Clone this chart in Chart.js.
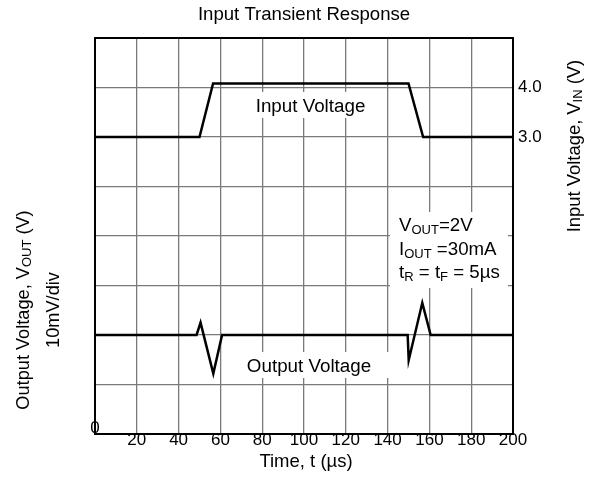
<!DOCTYPE html>
<html>
<head>
<meta charset="utf-8">
<script src="https://cdn.jsdelivr.net/npm/chart.js@4.4.1/dist/chart.umd.min.js"></script>
<style>
  html, body { margin: 0; padding: 0; background: #fff; }
  #wrap { width: 592px; height: 485px; position: relative; }
</style>
</head>
<body>
<div id="wrap"><canvas id="chart"></canvas></div>
<script>
const FONT = '"Liberation Sans", Arial, sans-serif';

// input step, volts
const inputTimes = [0, 50, 56.5, 150, 157, 200];
const inputVolts = [3.0, 3.0, 4.08, 4.08, 3.0, 3.0];

// output deviation, mV (10mV/div)
const outputTimes = [0, 48.6, 50.5, 56.6, 60.8, 149.6, 150.1, 156.6, 160.6, 200];
const outputMilliVolts = [0, 0, 2.5, -7.8, 0, 0, -5.1, 6.5, 0, 0];

const timeTicks = [0, 20, 40, 60, 80, 100, 120, 140, 160, 180, 200];
const inputTicks = [3.0, 4.0];

function toPoints(xs, ys) {
  return xs.map((x, i) => ({ x, y: ys[i] }));
}

// draws text made of [text, isSub] pieces, starting at x
function drawRichLeft(ctx, parts, x, y, size) {
  const subSize = Math.round(size * 0.7);
  let cx = x;
  parts.forEach(([t, sub]) => {
    ctx.font = `${sub ? subSize : size}px ${FONT}`;
    ctx.textAlign = "left";
    ctx.fillText(t, cx, sub ? y + 3 : y);
    cx += ctx.measureText(t).width;
  });
}

// same, centred on x
function drawRich(ctx, parts, x, y, size) {
  const subSize = Math.round(size * 0.7);
  let total = 0;
  parts.forEach(([t, sub]) => {
    ctx.font = `${sub ? subSize : size}px ${FONT}`;
    total += ctx.measureText(t).width;
  });
  drawRichLeft(ctx, parts, x - total / 2, y, size);
}

const decorations = {
  id: "decorations",
  beforeDatasetsDraw(chart) {
    const ctx = chart.ctx;
    ctx.save();
    ctx.fillStyle = "#fff";
    ctx.fillRect(250, 92, 122, 26);
    ctx.fillRect(236, 352, 158, 26);
    ctx.fillRect(390, 212, 118, 76);
    ctx.restore();
  },
  afterDraw(chart) {
    const ctx = chart.ctx;
    const area = chart.chartArea;
    const xs = chart.scales.x;
    ctx.save();
    ctx.fillStyle = "#000";
    ctx.textBaseline = "alphabetic";

    // border
    ctx.strokeStyle = "#000";
    ctx.lineWidth = 2;
    ctx.strokeRect(area.left, area.top, area.right - area.left, area.bottom - area.top);

    // title
    ctx.font = `18.6px ${FONT}`;
    ctx.textAlign = "center";
    ctx.fillText("Input Transient Response", 304, 19.5);

    // x tick labels
    ctx.font = `17px ${FONT}`;
    timeTicks.forEach((v) => {
      const px = xs.getPixelForValue(v);
      ctx.fillText(String(v), px, v === 0 ? area.bottom - 1 : area.bottom + 11);
    });
    ctx.font = `18.5px ${FONT}`;
    ctx.fillText("Time, t (\u00b5s)", 306, 467);

    // in-plot labels
    ctx.font = `18.8px ${FONT}`;
    ctx.fillText("Input Voltage", 310.5, 111.5);
    ctx.fillText("Output Voltage", 309, 371.5);

    drawRichLeft(ctx, [["V", false], ["OUT", true], ["=2V", false]], 399, 230.5, 18.7);
    drawRichLeft(ctx, [["I", false], ["OUT", true], [" =30mA", false]], 399, 255, 18.7);
    drawRichLeft(ctx, [["t", false], ["R", true], [" = t", false], ["F", true], [" = 5\u00b5s", false]], 399, 277.5, 18.7);

    // left axis title
    ctx.textBaseline = "middle";
    ctx.save();
    ctx.translate(24, 310);
    ctx.rotate(-Math.PI / 2);
    drawRich(ctx, [["Output Voltage, V", false], ["OUT", true], [" (V)", false]], 0, 0, 18.2);
    ctx.restore();
    ctx.save();
    ctx.translate(54, 310);
    ctx.rotate(-Math.PI / 2);
    drawRich(ctx, [["10mV/div", false]], 0, 0, 18.2);
    ctx.restore();

    // right axis title
    ctx.save();
    ctx.translate(575, 146);
    ctx.rotate(-Math.PI / 2);
    drawRich(ctx, [["Input Voltage, V", false], ["IN", true], [" (V)", false]], 0, 0, 18.4);
    ctx.restore();

    ctx.restore();
  },
};

new Chart(document.getElementById("chart"), {
  type: "line",
  data: {
    datasets: [
      {
        label: "Input Voltage",
        data: toPoints(inputTimes, inputVolts),
        yAxisID: "yIn",
        borderColor: "#000",
        borderWidth: 2.5,
        pointRadius: 0,
        tension: 0,
      },
      {
        label: "Output Voltage",
        data: toPoints(outputTimes, outputMilliVolts),
        yAxisID: "yOut",
        borderColor: "#000",
        borderWidth: 2.5,
        pointRadius: 0,
        tension: 0,
      },
    ],
  },
  options: {
    responsive: true,
    maintainAspectRatio: false,
    animation: false,
    layout: { padding: { top: 38, left: 0, right: 0, bottom: 0 } },
    plugins: {
      legend: { display: false },
      tooltip: { enabled: false },
    },
    scales: {
      x: {
        type: "linear",
        min: 0,
        max: 200,
        ticks: { display: false, stepSize: 20 },
        grid: { color: "#7a7a7a", lineWidth: 1.3, drawTicks: false },
        border: { display: false },
        afterFit(scale) { scale.height = 51; },
      },
      yOut: {
        position: "left",
        min: -20,
        max: 60,
        ticks: { display: false, stepSize: 10 },
        grid: { color: "#7a7a7a", lineWidth: 1.3, drawTicks: false },
        border: { display: false },
        afterFit(scale) { scale.width = 95; },
      },
      yIn: {
        position: "right",
        min: -3,
        max: 5,
        afterBuildTicks(scale) { scale.ticks = inputTicks.map((v) => ({ value: v })); },
        ticks: {
          color: "#000",
          padding: -3,
          font: { family: FONT, size: 17 },
          callback: (v) => Number(v).toFixed(1),
        },
        grid: { display: false },
        border: { display: false },
        afterFit(scale) { scale.width = 79; },
      },
    },
  },
  plugins: [decorations],
});
</script>
</body>
</html>
